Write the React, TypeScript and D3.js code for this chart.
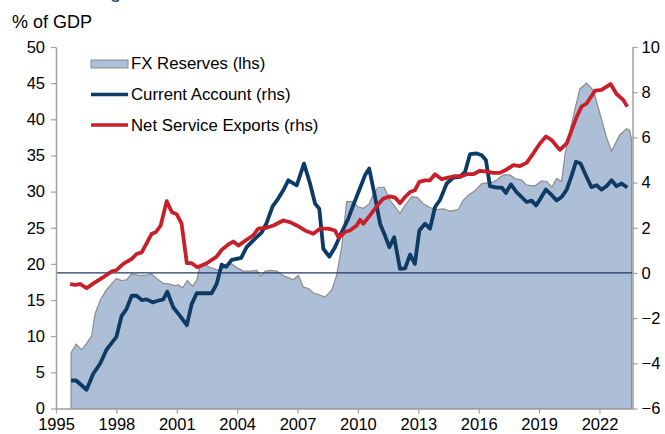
import React, { useEffect, useRef } from "react";
import * as d3 from "d3";

// FX reserves, % of GDP (left axis)
const fxYears = [
  1995.75, 1996.0, 1996.28, 1996.52, 1996.77, 1996.94, 1997.2, 1997.5, 1998.0, 1998.26,
  1998.5, 1998.76, 1999.17, 1999.42, 1999.75, 2000.0, 2000.33, 2000.66, 2000.9, 2001.07,
  2001.3, 2001.52, 2001.79, 2002.0, 2002.15, 2002.4, 2002.65, 2002.98, 2003.2, 2003.48,
  2003.73, 2003.98, 2004.3, 2004.65, 2004.97, 2005.17, 2005.4, 2005.65, 2005.96, 2006.29,
  2006.62, 2006.79, 2007.04, 2007.29, 2007.54, 2007.78, 2008.11, 2008.36, 2008.7, 2008.94,
  2009.19, 2009.44, 2009.77, 2010.0, 2010.27, 2010.56, 2010.77, 2011.01, 2011.3, 2011.6,
  2011.85, 2012.09, 2012.34, 2012.67, 2012.95, 2013.25, 2013.58, 2013.91, 2014.24, 2014.57,
  2014.98, 2015.23, 2015.48, 2015.81, 2016.15, 2016.39, 2016.56, 2016.89, 2017.22, 2017.55,
  2017.8, 2018.13, 2018.38, 2018.8, 2019.13, 2019.38, 2019.63, 2019.87, 2020.12, 2020.29,
  2020.54, 2020.79, 2021.03, 2021.36, 2021.69, 2022.02, 2022.35, 2022.6, 2023.0, 2023.34,
  2023.5, 2023.6,
];
const fxValues = [
  7.7, 8.9, 8.1, 9.0, 10.0, 13.1, 15.0, 16.4, 18.0, 17.7,
  17.8, 18.6, 18.4, 18.4, 18.6, 18.0, 17.3, 17.2, 17.0, 17.1,
  16.7, 17.7, 16.9, 17.8, 19.6, 19.9, 19.5, 19.2, 19.1, 19.8,
  20.0, 19.5, 19.0, 19.0, 19.1, 18.3, 19.0, 19.1, 19.0, 18.4,
  18.0, 17.8, 18.4, 16.8, 16.6, 16.0, 15.7, 15.4, 16.4, 18.4,
  22.3, 28.6, 28.6, 27.9, 27.7, 28.3, 29.7, 30.6, 30.6, 28.8,
  27.9, 27.0, 28.1, 29.3, 29.2, 28.3, 27.8, 27.5, 27.6, 27.3,
  27.5, 28.8, 29.5, 30.1, 31.1, 31.2, 31.1, 31.6, 32.3, 32.3,
  31.8, 31.6, 30.9, 30.8, 31.5, 31.4, 30.6, 31.8, 31.4, 35.2,
  38.5, 41.5, 44.2, 45.0, 44.0, 40.8, 37.5, 35.6, 37.8, 38.7,
  38.5, 37.1,
];

// Current account, % of GDP (right axis)
const caYears = [
  1995.75, 1996.0, 1996.52, 1996.85, 1997.19, 1997.52, 1998.0, 1998.26, 1998.5, 1998.76,
  1999.0, 1999.26, 1999.5, 1999.8, 2000.06, 2000.33, 2000.53, 2000.7, 2000.83, 2001.16,
  2001.5, 2001.74, 2001.99, 2002.32, 2002.73, 2002.98, 2003.23, 2003.45, 2003.73, 2004.2,
  2004.47, 2004.8, 2005.22, 2005.46, 2005.76, 2006.04, 2006.29, 2006.54, 2006.96, 2007.32,
  2007.62, 2007.87, 2008.08, 2008.28, 2008.58, 2008.86, 2009.19, 2009.52, 2009.77, 2010.1,
  2010.35, 2010.56, 2010.85, 2011.1, 2011.34, 2011.56, 2011.8, 2012.09, 2012.34, 2012.59,
  2012.83, 2013.05, 2013.33, 2013.58, 2013.83, 2014.08, 2014.41, 2014.74, 2015.07, 2015.32,
  2015.57, 2015.9, 2016.15, 2016.36, 2016.56, 2016.89, 2017.14, 2017.35, 2017.6, 2017.88,
  2018.13, 2018.38, 2018.63, 2018.85, 2019.04, 2019.34, 2019.63, 2019.87, 2020.12, 2020.37,
  2020.62, 2020.83, 2021.06, 2021.36, 2021.6, 2021.86, 2022.1, 2022.35, 2022.6, 2022.85,
  2023.1, 2023.38,
];
const caValues = [
  -4.76, -4.76, -5.17, -4.46, -4.02, -3.38, -2.83, -1.9, -1.6, -1.01,
  -1.01, -1.2, -1.17, -1.3, -1.23, -1.17, -0.83, -1.23, -1.53, -1.9,
  -2.31, -1.38, -0.9, -0.9, -0.9, -0.49, 0.37, 0.27, 0.58, 0.67,
  1.14, 1.44, 1.8, 2.2, 2.95, 3.29, 3.66, 4.1, 3.88, 4.84,
  3.96, 3.07, 2.84, 1.07, 0.72, 1.14, 1.8, 2.4, 3.0, 3.75,
  4.32, 4.62, 3.36, 2.18, 1.66, 1.14, 1.58, 0.18, 0.2, 0.81,
  0.4, 1.88, 2.18, 1.96, 2.92, 3.24, 3.96, 4.22, 4.25, 4.47,
  5.26, 5.29, 5.21, 4.99, 3.84, 3.78, 3.78, 3.54, 3.92, 3.58,
  3.36, 3.14, 3.2, 2.99, 3.25, 3.69, 3.44, 3.21, 3.36, 3.69,
  4.32, 4.92, 4.84, 4.25, 3.8, 3.88, 3.69, 3.84, 4.1, 3.84,
  3.96, 3.78,
];

// Net service exports, % of GDP (right axis)
const nseYears = [
  1995.7, 1995.95, 1996.2, 1996.52, 1996.94, 1997.35, 1997.77, 1998.0, 1998.34, 1998.76,
  1999.0, 1999.26, 1999.75, 1999.96, 2000.2, 2000.5, 2000.75, 2001.0, 2001.24, 2001.5,
  2001.74, 2002.02, 2002.49, 2002.98, 2003.23, 2003.56, 2003.81, 2004.06, 2004.47, 2004.8,
  2005.05, 2005.46, 2005.8, 2006.29, 2006.62, 2006.96, 2007.37, 2007.78, 2008.11, 2008.53,
  2008.86, 2009.05, 2009.36, 2009.6, 2009.94, 2010.1, 2010.27, 2010.6, 2010.93, 2011.26,
  2011.6, 2011.85, 2012.09, 2012.34, 2012.59, 2012.83, 2013.05, 2013.33, 2013.58, 2013.83,
  2014.16, 2014.49, 2014.82, 2015.15, 2015.4, 2015.73, 2016.06, 2016.39, 2016.72, 2017.05,
  2017.39, 2017.72, 2018.05, 2018.38, 2018.71, 2019.04, 2019.34, 2019.63, 2019.87, 2020.03,
  2020.37, 2020.62, 2020.87, 2021.11, 2021.36, 2021.78, 2022.1, 2022.55, 2022.85, 2023.18,
  2023.38,
];
const nseValues = [
  -0.49, -0.53, -0.49, -0.67, -0.42, -0.19, 0.07, 0.12, 0.4, 0.62,
  0.84, 0.91, 1.73, 1.8, 2.1, 3.18, 2.7, 2.59, 2.18, 0.43,
  0.43, 0.25, 0.43, 0.72, 1.02, 1.26, 1.39, 1.21, 1.47, 1.66,
  1.96, 2.0, 2.1, 2.32, 2.25, 2.1, 1.88, 1.73, 1.96, 1.96,
  1.88, 1.55, 1.82, 1.88, 2.1, 2.35, 2.18, 2.55, 2.95, 3.29,
  3.39, 3.33, 3.09, 3.36, 3.58, 3.66, 4.03, 4.1, 4.1, 4.37,
  4.15, 4.22, 4.28, 4.28, 4.37, 4.37, 4.52, 4.48, 4.43, 4.43,
  4.58, 4.77, 4.73, 4.87, 5.29, 5.73, 6.04, 5.88, 5.61, 5.45,
  5.73, 6.32, 6.92, 7.36, 7.5, 8.07, 8.1, 8.36, 7.92, 7.66,
  7.36,
];

const yearTicks = [1995, 1998, 2001, 2004, 2007, 2010, 2013, 2016, 2019, 2022];
const leftTicks = [0, 5, 10, 15, 20, 25, 30, 35, 40, 45, 50];
const rightTicks = [-6, -4, -2, 0, 2, 4, 6, 8, 10];

const W = 665;
const H = 434;
const plot = { left: 56, right: 632.5, top: 47, bottom: 408.5 };
const font = "'Liberation Sans', Arial, sans-serif";

export default function App() {
  const leftRef = useRef<SVGGElement>(null);
  const rightRef = useRef<SVGGElement>(null);
  const bottomRef = useRef<SVGGElement>(null);

  const x = d3.scaleLinear().domain([1995, 2023.64]).range([plot.left, plot.right]);
  const yL = d3.scaleLinear().domain([0, 50]).range([plot.bottom, plot.top]);
  const yR = d3.scaleLinear().domain([-6, 10]).range([plot.bottom, plot.top]);

  const fx = fxYears.map((yr, i) => [yr, fxValues[i]] as [number, number]);
  const ca = caYears.map((yr, i) => [yr, caValues[i]] as [number, number]);
  const nse = nseYears.map((yr, i) => [yr, nseValues[i]] as [number, number]);

  const fxArea = d3
    .area<[number, number]>()
    .x((d) => x(d[0]))
    .y0(yL(0))
    .y1((d) => yL(d[1]));
  const rhsLine = d3
    .line<[number, number]>()
    .x((d) => x(d[0]))
    .y((d) => yR(d[1]));

  useEffect(() => {
    const styleAxis = (g: any) => {
      g.selectAll(".domain").attr("stroke", "#a0a0a0").attr("stroke-width", 1.5);
      g.selectAll(".tick line").attr("stroke", "#a0a0a0").attr("stroke-width", 1.2);
      g.selectAll("text")
        .attr("font-family", font)
        .attr("font-size", 16.5)
        .attr("fill", "#000");
    };
    const gl = d3.select(leftRef.current);
    gl.call(d3.axisLeft(yL).tickValues(leftTicks).tickSize(5).tickPadding(6).tickSizeOuter(0) as any);
    styleAxis(gl);
    const gr = d3.select(rightRef.current);
    gr.call(d3.axisRight(yR).tickValues(rightTicks).tickSize(5).tickPadding(4).tickSizeOuter(0) as any);
    styleAxis(gr);
    const gb = d3.select(bottomRef.current);
    gb.call(
      d3
        .axisBottom(x)
        .tickValues(yearTicks)
        .tickFormat((d) => String(d))
        .tickSize(5)
        .tickPadding(5)
        .tickSizeOuter(0) as any
    );
    styleAxis(gb);
  });

  return (
    <svg
      width={W}
      height={H}
      style={{ position: "absolute", left: 0, top: 0, background: "#fff" }}
    >
      <text x={110} y={-2} fontFamily={font} fontSize={20} fill="#1f4e79">
        g
      </text>
      <text x={12} y={28} fontFamily={font} fontSize={18} fill="#000">
        % of GDP
      </text>

      <path d={fxArea(fx) || ""} fill="#adbfd6" stroke="#8c8c8c" strokeWidth={1.2} />
      <line
        x1={plot.left}
        x2={plot.right}
        y1={yR(0)}
        y2={yR(0)}
        stroke="#1f3864"
        strokeWidth={1.2}
      />
      <path
        d={rhsLine(ca) || ""}
        fill="none"
        stroke="#0e3a66"
        strokeWidth={3.8}
        strokeLinejoin="round"
      />
      <path
        d={rhsLine(nse) || ""}
        fill="none"
        stroke="#c8202b"
        strokeWidth={3.8}
        strokeLinejoin="round"
      />

      <g ref={leftRef} transform={`translate(${plot.left},0)`} />
      <g ref={rightRef} transform={`translate(${plot.right},0)`} />
      <g ref={bottomRef} transform={`translate(0,${plot.bottom})`} />

      <g fontFamily={font} fontSize={16.8} fill="#000">
        <rect x={91} y={60} width={37} height={8} fill="#adbfd6" stroke="#8c8c8c" strokeWidth={1} />
        <text x={131} y={69}>FX Reserves (lhs)</text>
        <line x1={91} x2={128} y1={94.5} y2={94.5} stroke="#0e3a66" strokeWidth={3.5} />
        <text x={131} y={100}>Current Account (rhs)</text>
        <line x1={91} x2={128} y1={125} y2={125} stroke="#c8202b" strokeWidth={3.5} />
        <text x={131} y={131}>Net Service Exports (rhs)</text>
      </g>
    </svg>
  );
}
